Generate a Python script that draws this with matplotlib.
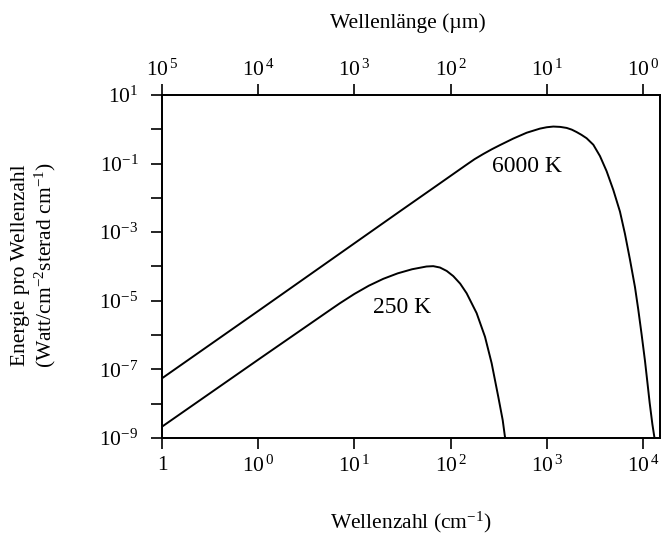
import numpy as np
import matplotlib.pyplot as plt

plt.rcParams['font.family'] = ['Liberation Serif', 'DejaVu Serif']
plt.rcParams['mathtext.fontset'] = 'custom'
plt.rcParams['mathtext.rm'] = 'Liberation Serif'
plt.rcParams['mathtext.it'] = 'Liberation Serif:italic'

# Planck curves, log10 of wavenumber (cm^-1) and log10 of radiance
log_nu_6000 = [-1.0, 0.019, 1.058, 1.474, 1.821, 2.167, 2.25, 2.34, 2.43,
               2.514, 2.652, 2.791, 2.929, 3.0, 3.068, 3.14, 3.207, 3.26,
               3.31, 3.36, 3.414, 3.484, 3.553, 3.622, 3.692, 3.761, 3.813,
               3.865, 3.917, 3.951, 3.986, 4.021, 4.045, 4.070, 4.098, 4.120]
log_b_6000 = [-7.26, -5.26, -3.21, -2.39, -1.71, -1.03, -0.87, -0.72, -0.58,
              -0.46, -0.27, -0.10, 0.02, 0.06, 0.08, 0.07, 0.04, -0.01,
              -0.08, -0.16, -0.26, -0.45, -0.78, -1.22, -1.77, -2.40, -3.05,
              -3.80, -4.60, -5.25, -5.98, -6.75, -7.35, -7.98, -8.60, -9.00]

log_nu_250 = [-1.0, 0.019, 0.746, 0.85, 1.0, 1.15, 1.3, 1.45, 1.6, 1.75,
              1.82, 1.89, 1.96, 2.028, 2.10, 2.167, 2.271, 2.358, 2.427,
              2.496, 2.542, 2.565, 2.570]
log_b_250 = [-8.67, -6.68, -5.27, -5.07, -4.80, -4.56, -4.36, -4.20, -4.08,
             -4.00, -3.99, -4.03, -4.13, -4.28, -4.50, -4.78, -5.36, -6.05,
             -6.82, -7.80, -8.48, -8.96, -9.00]

curve_labels = ['6000 K', '250 K']
label_pos = [(2.794, -1.085), (1.495, -5.21)]

# bottom axis ticks (wavenumber) and top axis ticks (wavelength in um)
nu_ticks = [1e-1, 1e0, 1e1, 1e2, 1e3, 1e4]
nu_ticklabels = ['1', r'$\mathregular{10^{\,0}}$', r'$\mathregular{10^{\,1}}$',
                 r'$\mathregular{10^{\,2}}$', r'$\mathregular{10^{\,3}}$',
                 r'$\mathregular{10^{\,4}}$']
lam_ticks = [1e5, 1e4, 1e3, 1e2, 1e1, 1e0]
lam_ticklabels = [r'$\mathregular{10^{\,5}}$', r'$\mathregular{10^{\,4}}$',
                  r'$\mathregular{10^{\,3}}$', r'$\mathregular{10^{\,2}}$',
                  r'$\mathregular{10^{\,1}}$', r'$\mathregular{10^{\,0}}$']
y_exponents = [1, -1, -3, -5, -7, -9]

fs = 15.5

fig = plt.figure(figsize=(6.68, 5.41), dpi=100)
ax = fig.add_axes([0.2425, 0.1904, 0.7455, 0.634])

for lx, ly in [(log_nu_6000, log_b_6000), (log_nu_250, log_b_250)]:
    ax.plot(10 ** np.array(lx), 10 ** np.array(ly), color='black', lw=1.4,
            solid_joinstyle='round')

for text, (lx, ly) in zip(curve_labels, label_pos):
    ax.text(10 ** lx, 10 ** ly, text, fontsize=17, ha='center', va='center')

ax.set_xscale('log')
ax.set_yscale('log')
ax.set_xlim(1e-1, 10 ** 4.177)
ax.set_ylim(1e-9, 1e1)

ax.set_xticks(nu_ticks)
ax.set_xticklabels(nu_ticklabels, fontsize=fs)
ax.xaxis.set_minor_locator(plt.NullLocator())

ax.set_yticks([10.0 ** e for e in y_exponents])
ax.set_yticklabels([r'$\mathregular{10^{%d}}$' % e for e in y_exponents], fontsize=fs)
ax.set_yticks([10.0 ** e for e in range(-8, 1, 2)], minor=True)
ax.yaxis.set_minor_formatter(plt.NullFormatter())

ax.tick_params(which='both', direction='out', length=8, width=1.2)
ax.tick_params(axis='x', pad=5)
ax.tick_params(axis='y', pad=9)

# wavelength axis on top: lambda[um] = 1e4 / nu[cm^-1]
top = ax.twiny()
top.set_xscale('log')
top.set_xlim(ax.get_xlim())
top.set_xticks([1e4 / lam for lam in lam_ticks])
top.set_xticklabels(lam_ticklabels, fontsize=fs)
top.xaxis.set_minor_locator(plt.NullLocator())
top.tick_params(direction='out', length=8, width=1.2, pad=2)

for a in (ax, top):
    for s in a.spines.values():
        s.set_linewidth(1.3)

fig.text(0.61, 0.958, 'Wellenlänge (µm)', fontsize=fs, ha='center', va='center')
fig.text(0.615, 0.035, r'Wellenzahl (cm$^{\mathregular{-1}}$)', fontsize=fs,
         ha='center', va='center')
fig.text(0.030, 0.51, 'Energie pro Wellenzahl', fontsize=fs, rotation=90,
         ha='center', va='center')
fig.text(0.068, 0.51, r'(Watt/cm$^{\mathregular{-2}}$sterad cm$^{\mathregular{-1}}$)',
         fontsize=fs, rotation=90, ha='center', va='center')

fig.savefig('out.png', dpi=100)
